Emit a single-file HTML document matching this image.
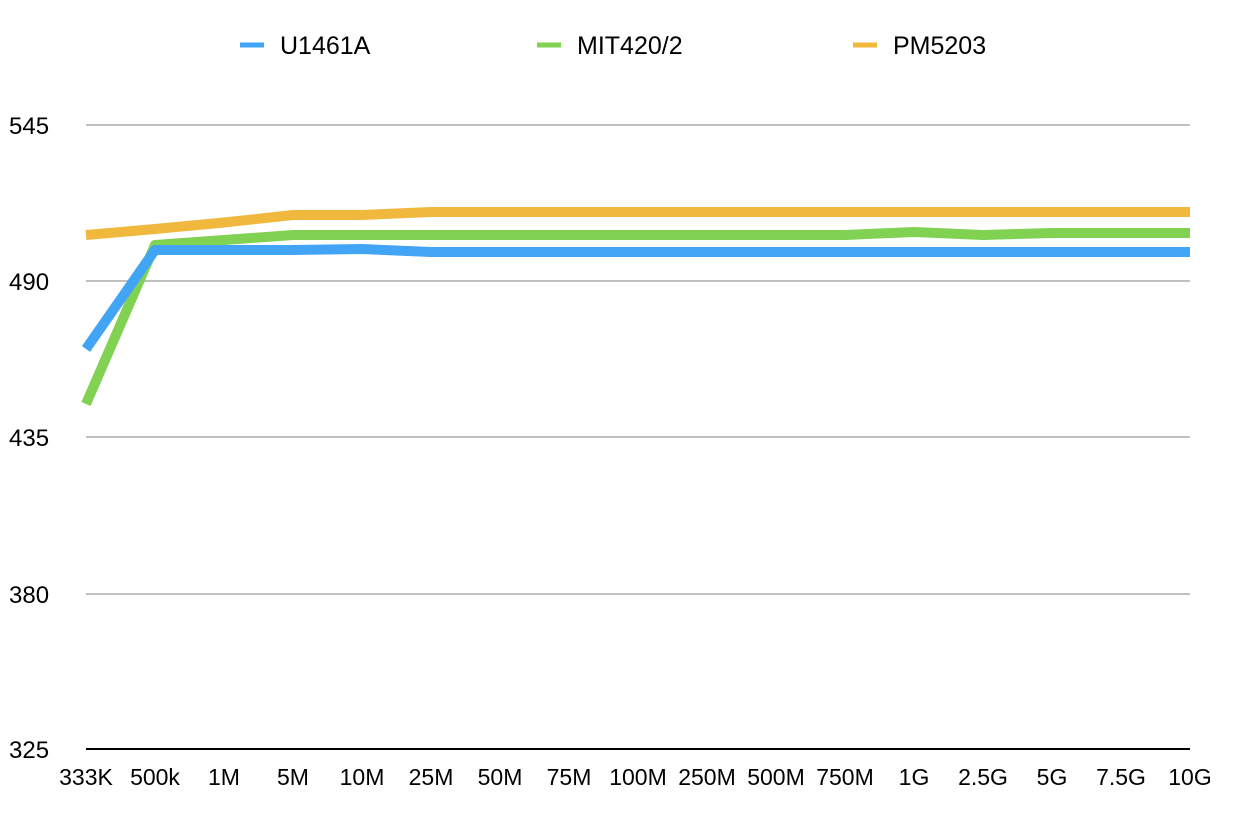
<!DOCTYPE html>
<html><head><meta charset="utf-8"><style>body{margin:0;background:#fff}</style></head><body>
<svg width="1256" height="824" xmlns="http://www.w3.org/2000/svg" font-family="Liberation Sans, sans-serif">
<g stroke="#c0c0c0" stroke-width="2">
<line x1="86" y1="125" x2="1190" y2="125"/>
<line x1="86" y1="281" x2="1190" y2="281"/>
<line x1="86" y1="437" x2="1190" y2="437"/>
<line x1="86" y1="594" x2="1190" y2="594"/>
</g>
<line x1="86" y1="749" x2="1190" y2="749" stroke="#000" stroke-width="2"/>
<g font-size="24" fill="#000">
<text x="9" y="134">545</text><text x="9" y="290">490</text><text x="9" y="446">435</text><text x="9" y="603">380</text><text x="9" y="758">325</text>
</g>
<g font-size="23" fill="#000" text-anchor="middle">
<text x="86" y="785">333K</text><text x="155" y="785">500k</text><text x="224" y="785">1M</text><text x="293" y="785">5M</text><text x="362" y="785">10M</text><text x="431" y="785">25M</text><text x="500" y="785">50M</text><text x="569" y="785">75M</text><text x="638" y="785">100M</text><text x="707" y="785">250M</text><text x="776" y="785">500M</text><text x="845" y="785">750M</text><text x="914" y="785">1G</text><text x="983" y="785">2.5G</text><text x="1052" y="785">5G</text><text x="1121" y="785">7.5G</text><text x="1190" y="785">10G</text>
</g>
<g fill="none" stroke-width="10" stroke-linejoin="round">
<polyline stroke="#f0b93e" points="86,235 155,229 224,222.5 293,215 362,215 431,212 1190,212"/>
<polyline stroke="#81d152" points="86,404 155,245 224,240 293,235 362,235 431,235 845,235 914,232 983,235 1052,233 1190,233"/>
<polyline stroke="#42a4f5" points="86,349 155,250 224,250 293,250 362,249 431,252 1190,252"/>
</g>
<g stroke-width="5">
<line x1="240" y1="45" x2="264" y2="45" stroke="#42a4f5"/>
<line x1="537" y1="45" x2="561" y2="45" stroke="#81d152"/>
<line x1="853" y1="45" x2="877" y2="45" stroke="#f0b93e"/>
</g>
<g font-size="25" fill="#000">
<text x="280" y="54">U1461A</text><text x="577" y="54">MIT420/2</text><text x="893" y="54">PM5203</text>
</g>
</svg>
</body></html>
